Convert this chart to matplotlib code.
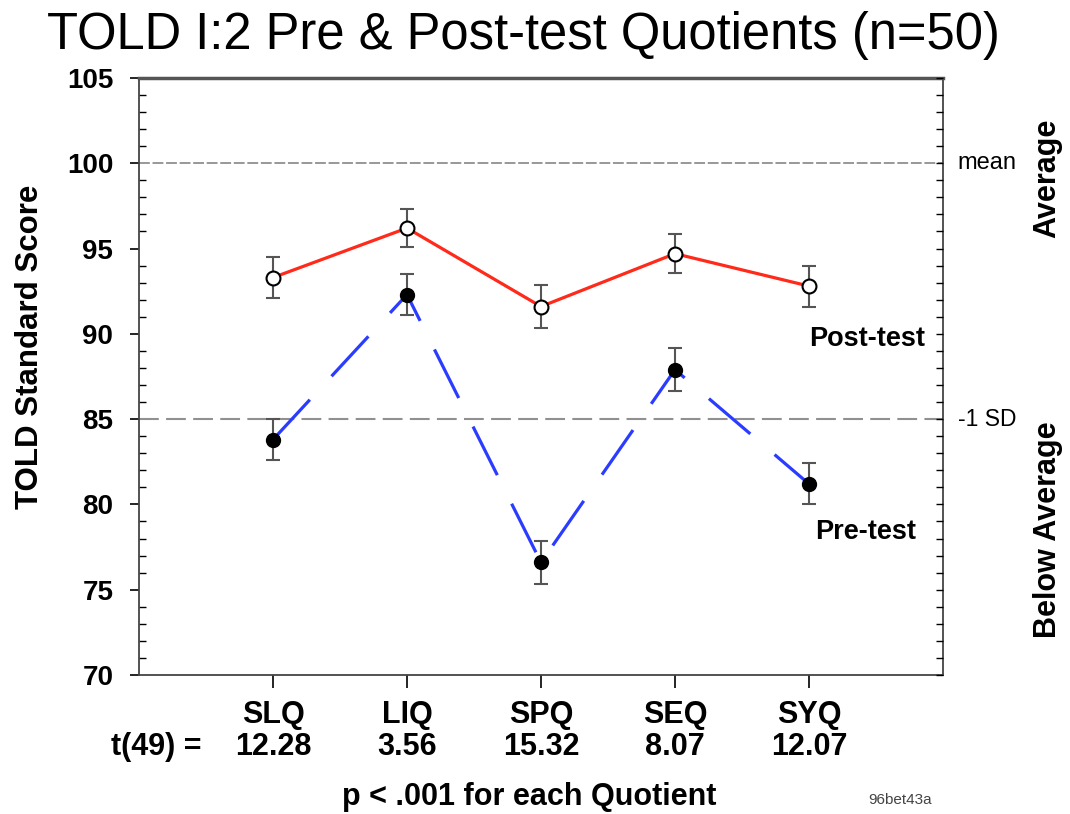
import matplotlib
matplotlib.use("Agg")
import matplotlib.pyplot as plt
from matplotlib.ticker import MultipleLocator

plt.rcParams['font.family'] = ['Liberation Sans', 'DejaVu Sans']

quotients = ['SLQ', 'LIQ', 'SPQ', 'SEQ', 'SYQ']
t_values = ['12.28', '3.56', '15.32', '8.07', '12.07']
post_test = [93.3, 96.2, 91.6, 94.7, 92.8]
post_err = [1.2, 1.1, 1.25, 1.15, 1.2]
pre_test = [83.8, 92.3, 76.6, 87.9, 81.2]
pre_err = [1.2, 1.2, 1.25, 1.25, 1.2]

x = list(range(1, len(quotients) + 1))

fig = plt.figure(figsize=(10.7, 8.14), dpi=100)
ax = fig.add_axes([0.1299, 0.1708, 0.7514, 0.7334])

# reference lines
ax.axhline(100, color='#909090', lw=1.3, dashes=(6, 1.5))
ax.axhline(85, color='#909090', lw=1.5, dashes=(9.5, 3.5))

# error bars
ax.errorbar(x, post_test, yerr=post_err, fmt='none', ecolor='#555555',
            elinewidth=1.5, capsize=5, capthick=1.5, zorder=3)
ax.errorbar(x, pre_test, yerr=pre_err, fmt='none', ecolor='#555555',
            elinewidth=1.5, capsize=5, capthick=1.5, zorder=3)

ax.plot(x, post_test, color='#ff2a1a', lw=2.3, zorder=4)
ax.plot(x, pre_test, color='#2a3cff', lw=2.3, dashes=(17, 10), zorder=4)
ax.plot(x, post_test, 'o', ms=10, mfc='white', mec='black', mew=1.5, zorder=5)
ax.plot(x, pre_test, 'o', ms=10, mfc='black', mec='black', zorder=5)

ax.set_xlim(0, 6)
ax.set_ylim(70, 105)
ax.yaxis.set_major_locator(MultipleLocator(5))
ax.yaxis.set_minor_locator(MultipleLocator(1))
ax.set_xticks(x)
ax.set_xticklabels(quotients, fontsize=22, fontweight='bold')
ax.tick_params(axis='x', direction='out', length=9, width=1.2, pad=9)
ax.tick_params(axis='y', which='major', direction='out', length=6.5, width=1.2,
               labelsize=20, pad=12)
ax.tick_params(axis='y', which='minor', direction='in', length=5, width=1)
for lab in ax.get_yticklabels():
    lab.set_fontweight('bold')

for side in ['left', 'right', 'bottom']:
    ax.spines[side].set_color('#444444')
    ax.spines[side].set_linewidth(1.3)
ax.spines['top'].set_color('#555555')
ax.spines['top'].set_linewidth(2.5)

# right-side inward ticks
ax2 = ax.twinx()
ax2.set_ylim(70, 105)
ax2.yaxis.set_major_locator(MultipleLocator(1))
ax2.tick_params(axis='y', direction='in', length=5, width=1, labelright=False)
for s in ax2.spines.values():
    s.set_visible(False)

ax.set_ylabel('TOLD Standard Score', fontsize=22.5, fontweight='bold', va='center')
ax.yaxis.set_label_coords(-0.135, 0.549)
fig.text(0.489, 0.957, 'TOLD I:2 Pre & Post-test Quotients (n=50)',
         fontsize=36.5, ha='center', va='center')

ax.text(6.11, 100, 'mean', fontsize=17, va='center', ha='left', clip_on=False)
ax.text(6.11, 85, '-1 SD', fontsize=16.5, va='center', ha='left', clip_on=False)
ax.text(6.78, 99.1, 'Average', fontsize=22, fontweight='bold', rotation=90,
        va='center', ha='center', clip_on=False)
ax.text(6.78, 78.5, 'Below Average', fontsize=22, fontweight='bold', rotation=90,
        va='center', ha='center', clip_on=False)
ax.text(5.0, 89.7, 'Post-test', fontsize=19.5, fontweight='bold', va='center')
ax.text(5.045, 78.4, 'Pre-test', fontsize=19.5, fontweight='bold', va='center')

# t statistics row
trans = ax.get_xaxis_transform()
ax.text(0.13, -0.12, 't(49) =', fontsize=22, fontweight='bold', ha='center',
        va='center', transform=trans)
for xi, tv in zip(x, t_values):
    ax.text(xi, -0.12, tv, fontsize=22, fontweight='bold', ha='center',
            va='center', transform=trans)
ax.text(2.91, -0.204, 'p < .001 for each Quotient', fontsize=22, fontweight='bold',
        ha='center', va='center', transform=trans)
ax.text(5.68, -0.209, '96bet43a', fontsize=11, color='#444444', ha='center',
        va='center', transform=trans)

fig.savefig('out.png', dpi=100)
